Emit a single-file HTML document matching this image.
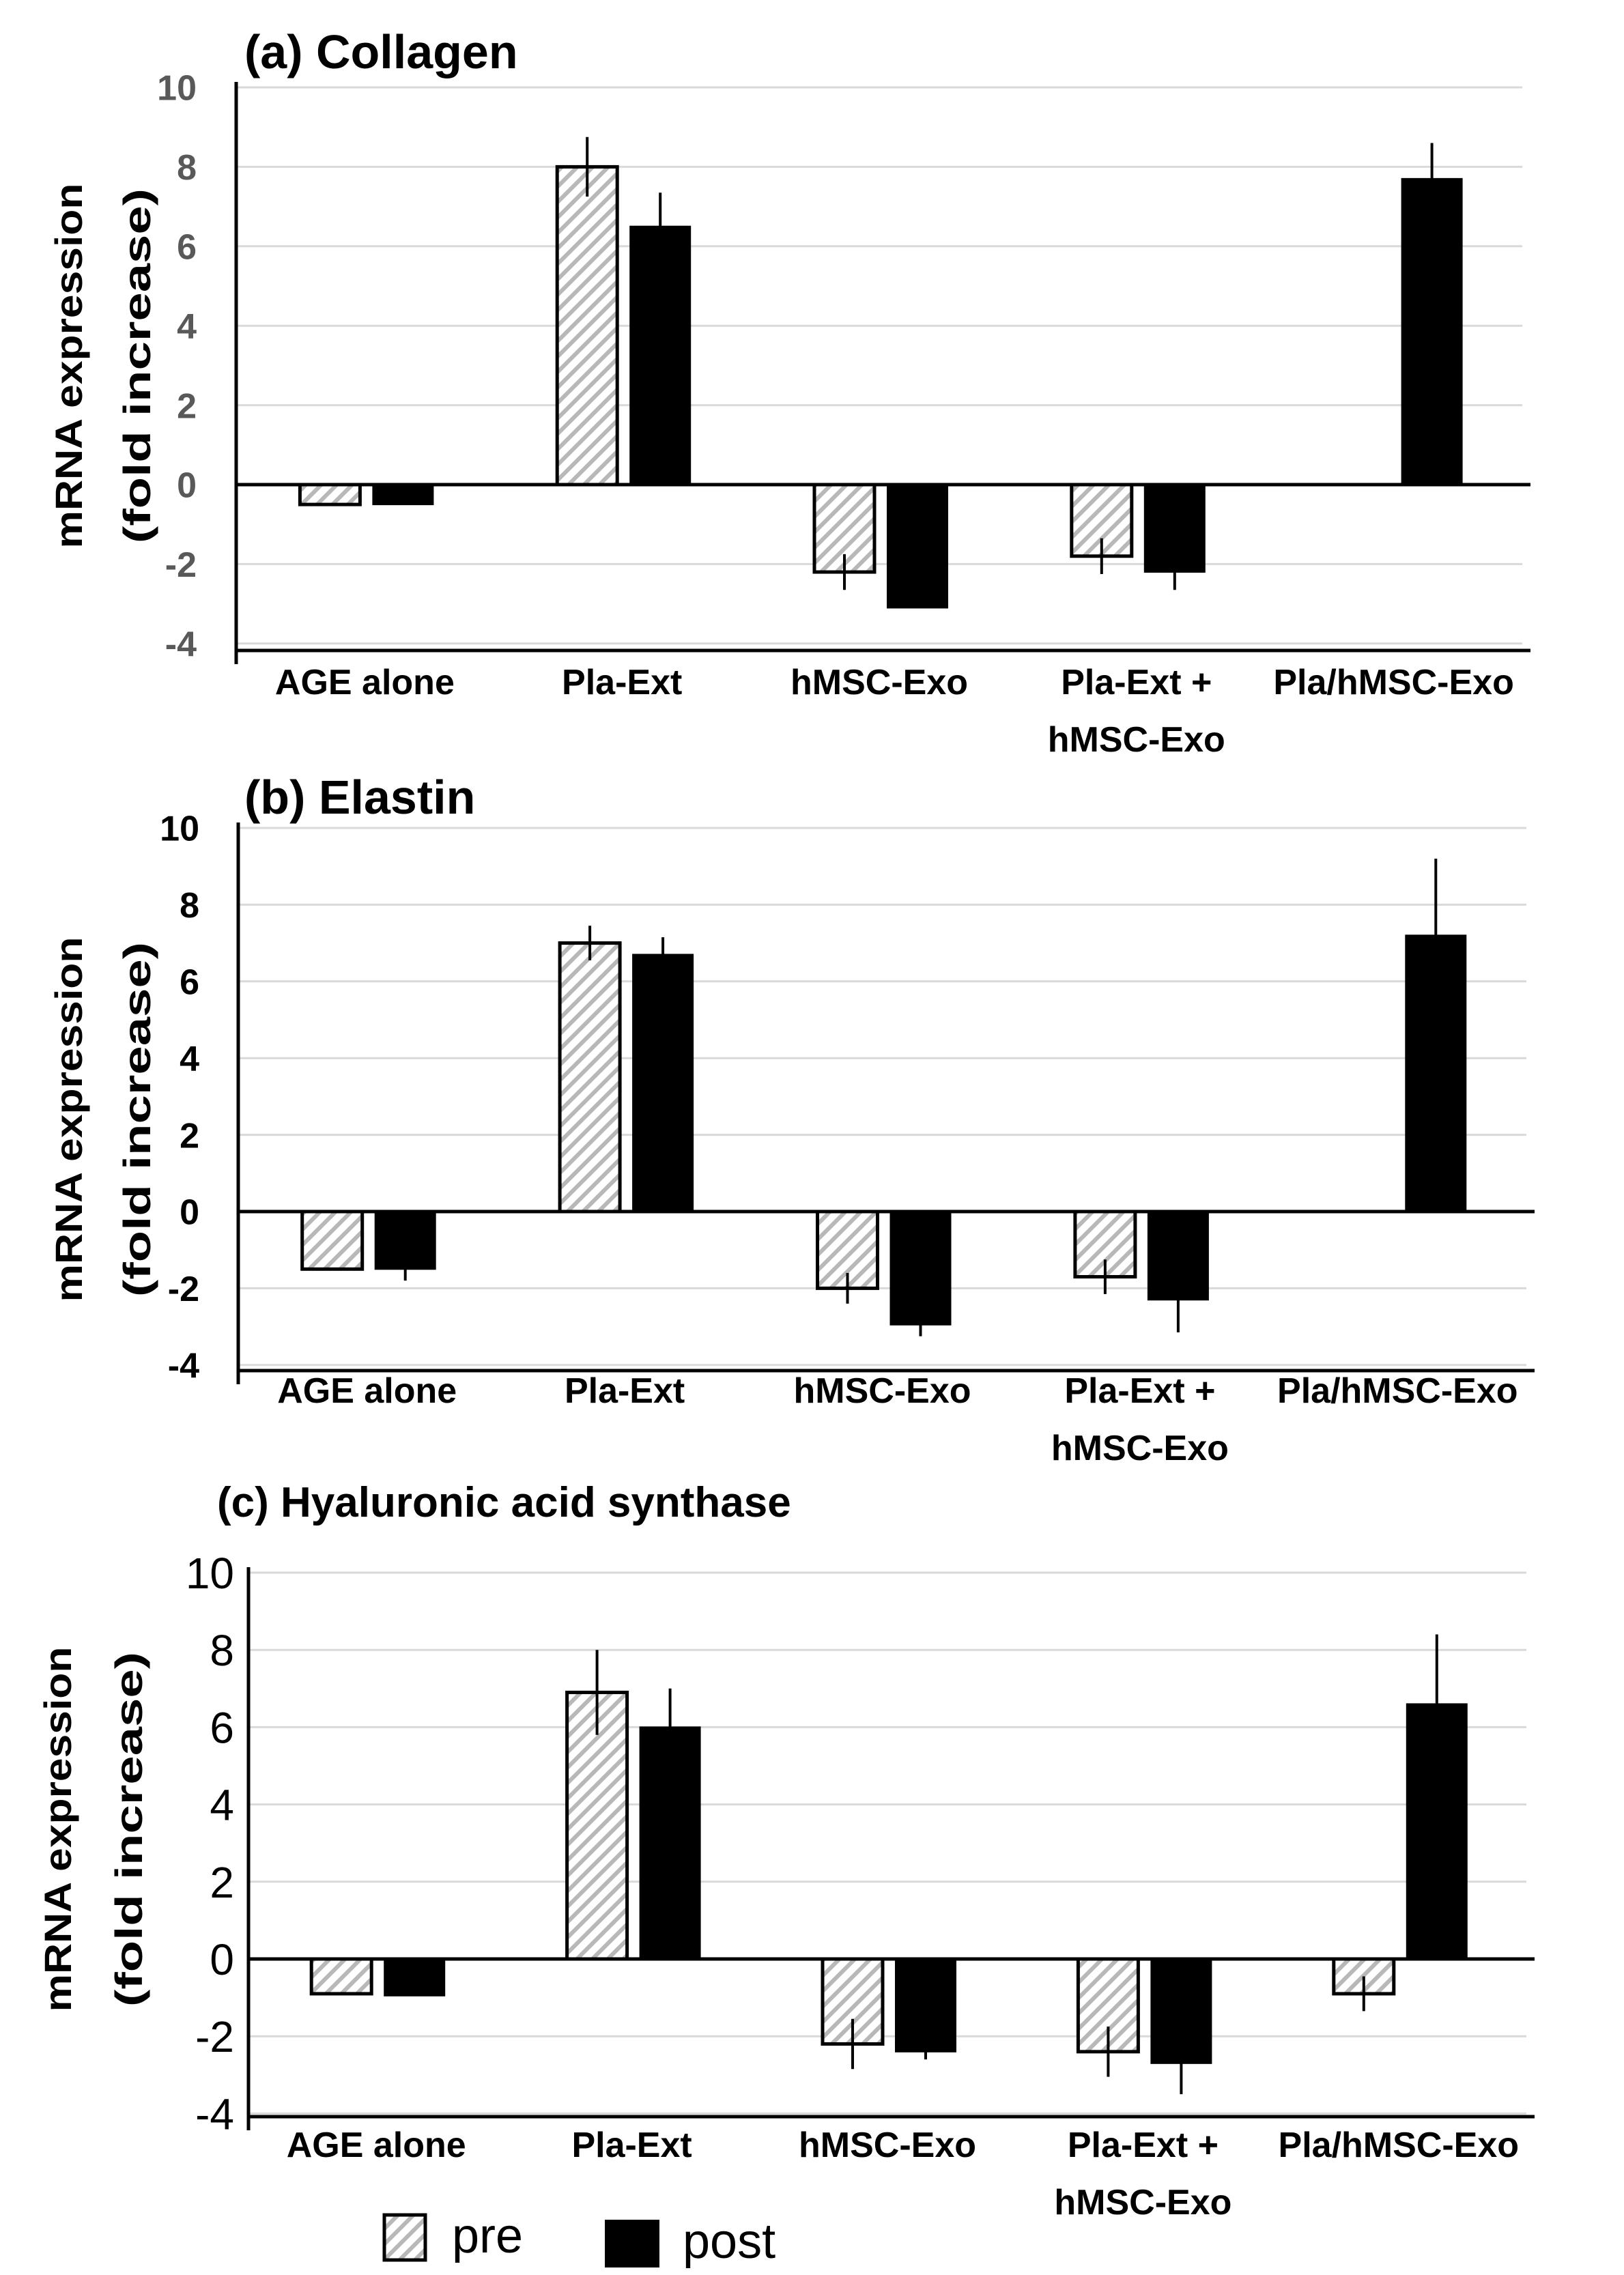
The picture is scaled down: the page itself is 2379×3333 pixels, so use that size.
<!DOCTYPE html>
<html><head><meta charset="utf-8"><style>
html,body{margin:0;padding:0;background:#fff}
svg{display:block}
text{font-family:"Liberation Sans",sans-serif}
</style></head><body>
<svg id="fig" width="2379" height="3333" viewBox="0 0 2379 3333" xmlns="http://www.w3.org/2000/svg">
<defs>
<pattern id="hatch" patternUnits="userSpaceOnUse" width="16" height="16" patternTransform="rotate(45)">
<rect width="16" height="16" fill="#fff"/><rect x="0" y="0" width="6" height="16" fill="#b8b8b8"/>
</pattern>
</defs>
</svg>
<script>
const categories = ["AGE alone","Pla-Ext","hMSC-Exo","Pla-Ext +|hMSC-Exo","Pla/hMSC-Exo"];
const yTicks = [-4,-2,0,2,4,6,8,10];
const aPre = [-0.5, 8.0, -2.2, -1.8, 0];
const aPost = [-0.5, 6.5, -3.1, -2.2, 7.7];
const aPreErr = [0, 0.75, 0.45, 0.45, 0];
const aPostErr = [0, 0.85, 0, 0.45, 0.9];
const bPre = [-1.5, 7.0, -2.0, -1.7, 0];
const bPost = [-1.5, 6.7, -2.95, -2.3, 7.2];
const bPreErr = [0, 0.45, 0.4, 0.45, 0];
const bPostErr = [0.3, 0.45, 0.3, 0.85, 2.0];
const cPre = [-0.9, 6.9, -2.2, -2.4, -0.9];
const cPost = [-0.95, 6.0, -2.4, -2.7, 6.6];
const cPreErr = [0, 1.1, 0.65, 0.65, 0.45];
const cPostErr = [0, 1.0, 0.2, 0.8, 1.8];
const titles = ["(a) Collagen","(b) Elastin","(c) Hyaluronic acid synthase"];

const NS="http://www.w3.org/2000/svg";
const svg=document.getElementById('fig');
function mk(tag,attrs,parent){const e=document.createElementNS(NS,tag);for(const k in attrs)e.setAttribute(k,attrs[k]);(parent||svg).appendChild(e);return e;}

const panels=[
 {pre:aPre,post:aPost,preE:aPreErr,postE:aPostErr,x0:346,x1:2230,y10:128,y0:710,yb:953,title:titles[0],tx:358,ty:100,tfs:70,tickFill:"#595959",tickBold:true,tickX:288,tickFs:52,ytx:[100,200],ytc:536,lab1:1017,lab2:1101},
 {pre:bPre,post:bPost,preE:bPreErr,postE:bPostErr,x0:349,x1:2236,y10:1213,y0:1775,yb:2008,title:titles[1],tx:358,ty:1192,tfs:70,tickFill:"#000",tickBold:true,tickX:292,tickFs:52,ytx:[100,200],ytc:1640,lab1:2055,lab2:2139},
 {pre:cPre,post:cPost,preE:cPreErr,postE:cPostErr,x0:364,x1:2236,y10:2304,y0:2870,yb:3101,title:titles[2],tx:318,ty:2222,tfs:62,tickFill:"#000",tickBold:false,tickX:343,tickFs:64,ytx:[84,188],ytc:2680,lab1:3160,lab2:3244}
];

panels.forEach((p,pi)=>{
  const g=mk('g',{});
  
  
  const unit=(p.y0-p.y10)/10;
  const Y=v=>p.y0-v*unit;
  const band=(p.x1-p.x0)/categories.length;
  const X=i=>p.x0+band*(i+0.5);
  const t=mk('text',{x:p.tx,y:p.ty,'font-size':p.tfs,'font-weight':'bold',fill:'#000'},g);
  t.textContent=p.title;
  
  
  yTicks.forEach(v=>{
    if(v!==0){const l=mk('line',{x1:p.x0,x2:p.x1,y1:Y(v),y2:Y(v),stroke:'#d9d9d9','stroke-width':3},g);
      }
    const tx=mk('text',{x:p.tickX,y:Y(v)+p.tickFs*0.36,'font-size':p.tickFs,'font-weight':p.tickBold?'bold':'normal',fill:p.tickFill,'text-anchor':'end'},g);
    tx.textContent=String(v);
    
    
  });
  const yt=mk('text',{transform:`translate(${p.ytx[0]+20},${p.ytc}) rotate(-90)`,'font-size':56,'font-weight':'bold','text-anchor':'middle',textLength:535,lengthAdjust:'spacingAndGlyphs'},g);
  yt.textContent='mRNA expression';
  
  
  const yt2=mk('text',{transform:`translate(${p.ytx[1]+20},${p.ytc}) rotate(-90)`,'font-size':56,'font-weight':'bold','text-anchor':'middle',textLength:520,lengthAdjust:'spacingAndGlyphs'},g);
  yt2.textContent='(fold increase)';
  
  
  categories.forEach((c,i)=>{
    const cx=X(i);
    [[p.pre,p.preE,'pre',-95],[p.post,p.postE,'post',12]].forEach(([vals,errs,s,off])=>{
      const v=vals[i];
      if(v!==0){
        const r=mk('rect',{x:cx+off,width:88,y:Math.min(Y(v),Y(0)),height:Math.abs(Y(v)-Y(0)),fill:s==='pre'?'url(#hatch)':'#000',stroke:'#000','stroke-width':s==='pre'?5:2},g);
        
        
      }
      const e=errs[i];
      if(e>0){
        const l=mk('line',{x1:cx+off+44,x2:cx+off+44,y1:Y(v-e),y2:Y(v+e),stroke:'#000','stroke-width':4},g);
        
        
      }
    });
    const parts=c.split('|');
    parts.forEach((pt,k)=>{
      const tl=mk('text',{x:cx,y:k===0?p.lab1:p.lab2,'font-size':52,'font-weight':'bold','text-anchor':'middle'},g);
      tl.textContent=pt;
      
      
    });
  });
  const z=mk('line',{x1:p.x0,x2:p.x1+12,y1:Y(0),y2:Y(0),stroke:'#000','stroke-width':5},g);
  
  const ya=mk('line',{x1:p.x0,x2:p.x0,y1:p.y10-8,y2:p.yb+20,stroke:'#000','stroke-width':5},g);
  
  const xa=mk('line',{x1:p.x0,x2:p.x1+12,y1:p.yb,y2:p.yb,stroke:'#000','stroke-width':5},g);
  
});

const lg=mk('g',{});


const lp=mk('rect',{x:563,y:3245,width:60,height:66,fill:'url(#hatch)',stroke:'#000','stroke-width':5},lg);

const lpt=mk('text',{x:662,y:3300,'font-size':72},lg);lpt.textContent='pre';

const lq=mk('rect',{x:886,y:3252,width:80,height:70,fill:'#000'},lg);

const lqt=mk('text',{x:1000,y:3308,'font-size':72},lg);lqt.textContent='post';

</script>
</body></html>
